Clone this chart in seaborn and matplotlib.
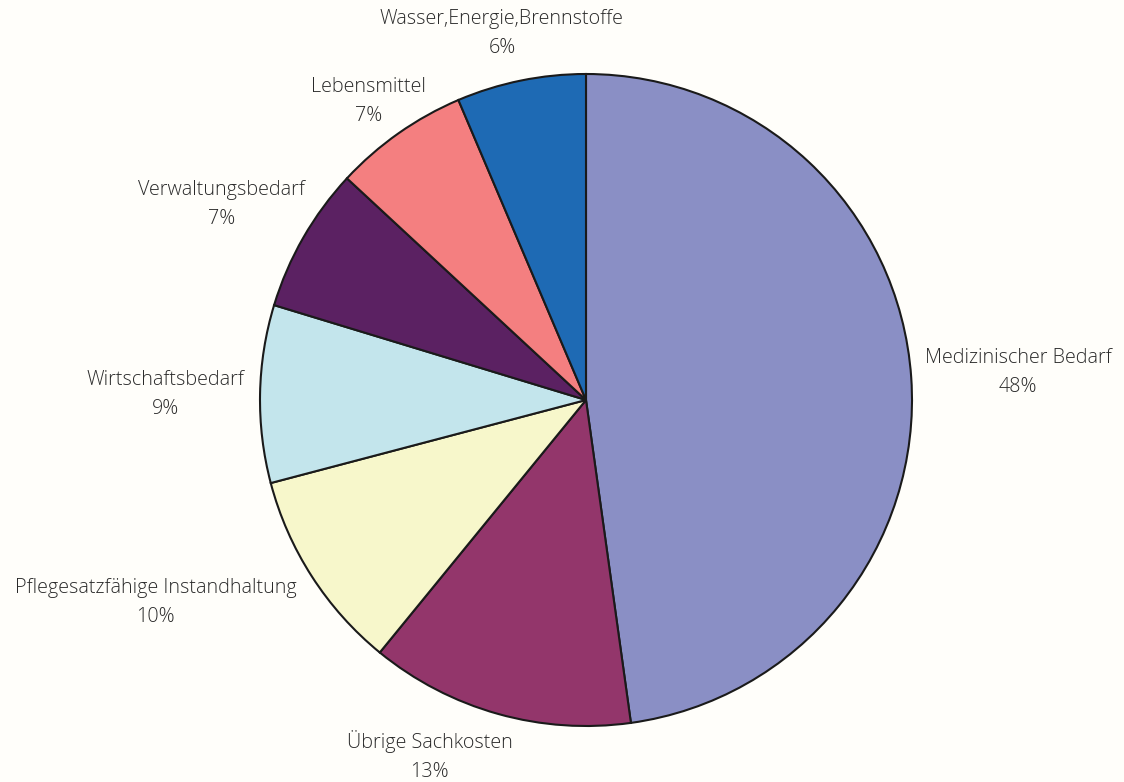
import matplotlib
matplotlib.use("Agg")
import matplotlib.pyplot as plt
import seaborn as sns

# ---- data ----
categories = ["Medizinischer Bedarf", "Übrige Sachkosten", "Pflegesatzfähige Instandhaltung",
              "Wirtschaftsbedarf", "Verwaltungsbedarf", "Lebensmittel",
              "Wasser,Energie,Brennstoffe"]
shares = [47.8, 13.1, 10.0, 8.8, 7.2, 6.7, 6.4]

# ---- style ----
colors = ["#8a8fc5", "#93366b", "#f7f7cb", "#c3e5ec", "#5b2162", "#f47f80", "#1e6ab4"]
# label centres in units of the pie radius (layout only)
label_xy = [(1.325, 0.083), (-0.48, -1.092), (-1.32, -0.62), (-1.29, 0.018),
            (-1.117, 0.601), (-0.666, 0.916), (-0.258, 1.123)]

sns.set_theme(style="white")
plt.rcParams["font.family"] = ["Open Sans", "DejaVu Sans"]
bg = "#fffefa"

fig = plt.figure(figsize=(11.24, 7.82), dpi=100, facecolor=bg)
ax = fig.add_axes([0, 0, 1, 1])
ax.set_facecolor(bg)

palette = sns.color_palette(colors)
ax.pie(shares, colors=palette, startangle=90, counterclock=False, radius=1.0,
       wedgeprops=dict(edgecolor="#1a1a1a", linewidth=1.5))

total = sum(shares)
for cat, v, (x, y) in zip(categories, shares, label_xy):
    ax.text(x, y, f"{cat}\n{100 * v / total:.0f}%", ha="center", va="center",
            multialignment="center", fontsize=14.2, fontweight="light",
            color="#2a2a2a", linespacing=1.6)

ax.set_xlim(-586 / 326, (1124 - 586) / 326)
ax.set_ylim(-(782 - 400) / 326, 400 / 326)
ax.set_aspect("auto")
ax.axis("off")

fig.savefig("out.png", dpi=100, facecolor=bg)
